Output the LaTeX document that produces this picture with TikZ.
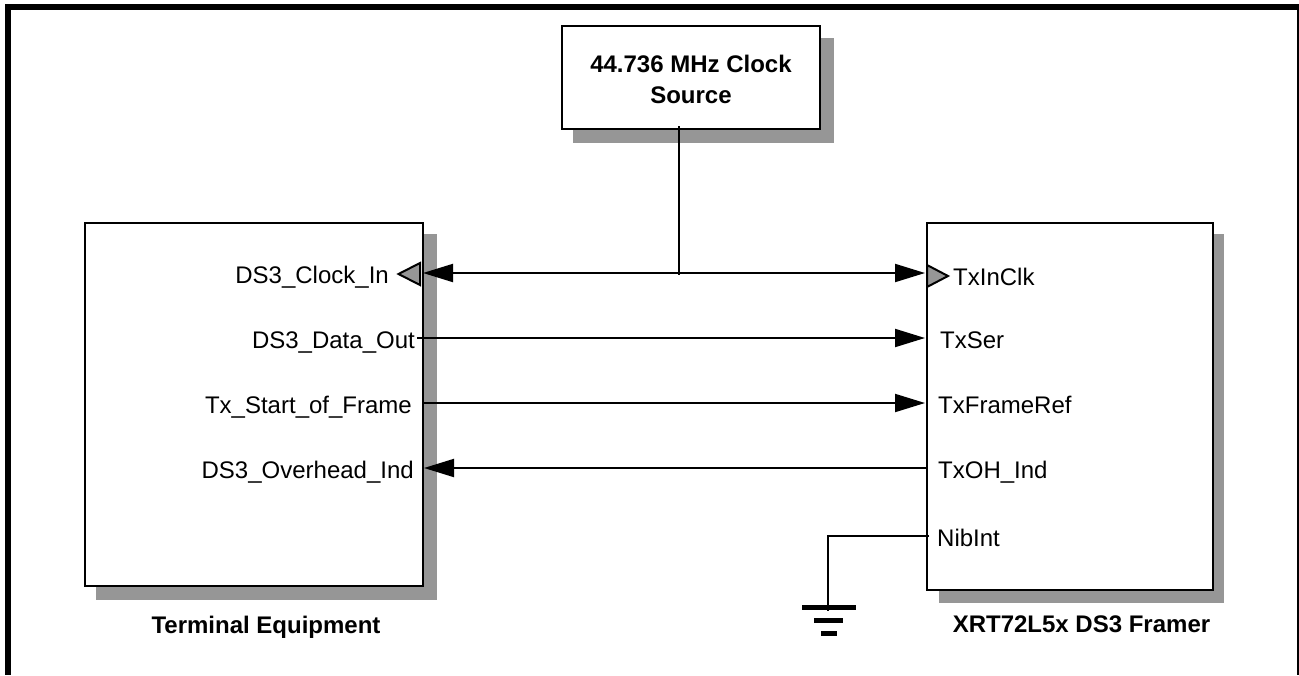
\documentclass[tikz,border=0pt]{standalone}
\usepackage{fontspec}
\setmainfont{Liberation Sans}
\usetikzlibrary{arrows.meta}
\definecolor{shadowgray}{HTML}{969696}
\tikzset{x=1pt,y=-1pt,
  boxn/.style={draw=black,line width=2pt,fill=white,inner sep=0pt,outer sep=0pt,anchor=north west},
  lab/.style={font=\fontsize{24}{29}\selectfont,inner sep=0pt},
  title/.style={font=\fontsize{24}{31}\selectfont\bfseries,inner sep=0pt,align=center},
  wire/.style={line width=2pt},
  sig/.style={wire,-{Triangle[length=30pt,width=18pt]}},
  sigb/.style={wire,{Triangle[length=30pt,width=18pt]}-{Triangle[length=30pt,width=18pt]}},
  clk/.style={draw=black,line width=2pt,fill=shadowgray,line join=miter}}
\begin{document}
\begin{tikzpicture}
\useasboundingbox (0,0) rectangle (1299,675);
% frame
\fill (5,4) rectangle (1299,10);
\fill (5,4) rectangle (11,675);
\fill (1297,4) rectangle (1299,675);
% shadows
\fill[shadowgray] (573,38) rectangle (834,143);
\fill[shadowgray] (96,234) rectangle (437,599.5);
\fill[shadowgray] (939,234) rectangle (1224,603);
% boxes
\node[boxn,minimum width=258pt,minimum height=103pt] (clock) at (561.5,26) {};
\node[title] (clockt) at (691,79) {44.736 MHz Clock\\Source};
\node[boxn,minimum width=338pt,minimum height=363.5pt] (term) at (85,222.5) {};
\node[boxn,minimum width=286pt,minimum height=367pt] (fr) at (927,222.5) {};
% labels
\node[lab,anchor=base east] (l1) at (389,283) {DS3\_Clock\_In};
\node[lab,anchor=base east] (l2) at (415,348) {DS3\_Data\_Out};
\node[lab,anchor=base east] (l3) at (412,413) {Tx\_Start\_of\_Frame};
\node[lab,anchor=base east] (l4) at (414,478) {DS3\_Overhead\_Ind};
\node[lab,anchor=base west] (r1) at (953,285) {TxInClk};
\node[lab,anchor=base west] (r2) at (940,348) {TxSer};
\node[lab,anchor=base west] (r3) at (938,413) {TxFrameRef};
\node[lab,anchor=base west] (r4) at (938,478) {TxOH\_Ind};
\node[lab,anchor=base west] (r5) at (937,546) {NibInt};
\node[title,anchor=base] (tt) at (266,633) {Terminal Equipment};
\node[title,anchor=base] (ft) at (1081.5,632) {XRT72L5x DS3 Framer};
% clock triangles
\draw[clk] (420,263) -- (398.5,274) -- (420,285) -- cycle;
\draw[clk] (927,265) -- (948,276) -- (927,287) -- cycle;
% connectors
\draw[sigb] (423,273) -- (925,273);
\draw[wire] (678.5,126) -- (678.5,275);
\draw[sig] (417,338) -- (925,338);
\draw[sig] (422,403) -- (925,403);
\draw[sig] (927,468) -- (424,468);
\draw[wire] (929,536) -- (828,536) -- (828,611);
% ground
\fill (802,605) rectangle (856,609.5);
\fill (814,618) rectangle (843,623);
\fill (821,631) rectangle (837,636);
\end{tikzpicture}
\end{document}
